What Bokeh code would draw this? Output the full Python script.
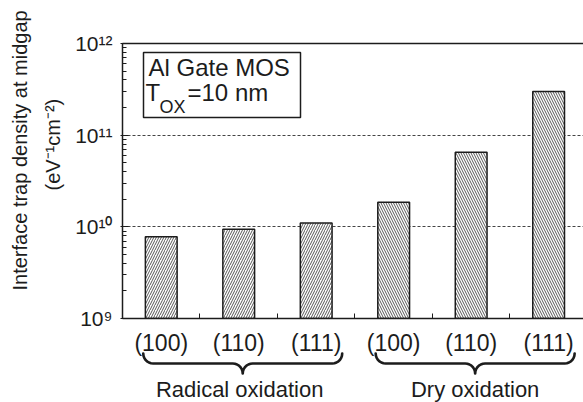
import math
import numpy as np
from bokeh.plotting import figure
from bokeh.layouts import column
from bokeh.models import (Range1d, FixedTicker, LinearAxis, Label, Title,
                          BoxAnnotation, PolyAnnotation, ColumnDataSource)
from bokeh.embed import file_html
from bokeh.resources import INLINE

# ---------------- data ----------------
categories = ["(100)", "(110)", "(111)", "(100)", "(110)", "(111)"]
groups = ["Radical  oxidation", "Dry oxidation"]
group_of_bar = [0, 0, 0, 1, 1, 1]
dit_values = [7.8e9, 9.4e9, 1.10e10, 1.86e10, 6.5e10, 3.0e11]
y_ticks = [1e9, 1e10, 1e11, 1e12]
y_tick_labels = ["10\u2079", "10\u00b9\u2070", "10\u00b9\u00b9", "10\u00b9\u00b2"]
y_label_lines = ["Interface trap density at midgap", "(eV\u207b\u00b9cm\u207b\u00b2)"]
box_line1 = "Al Gate MOS"
box_line2 = ["T", "OX", "=10 nm"]

# ---------------- layout ----------------
W, H = 583, 402
TOPH = 330        # height of the main figure
FL, FT, FBOT = 122, 43, 318   # frame left, top, bottom in page pixels
X0, X1 = 0.0, 5.95
Y0, Y1 = 1e9, 1e12
FONT = "Liberation Sans"
INK = "#1c1c1c"
U = "canvas"

frame_w = W - FL


def px_of(x):
    return FL + (x - X0) / (X1 - X0) * frame_w


def label(fig, x, y, text, size, align="left", angle=0):
    fig.add_layout(Label(x=x, y=y, x_units=U, y_units=U, text=text, text_font=FONT,
                         text_font_size=size, text_align=align, text_baseline="middle",
                         angle=angle, angle_units="deg", text_color=INK))


# ---------------- main plot ----------------
p = figure(width=W, height=TOPH, y_axis_type="log",
           x_range=Range1d(X0, X1), y_range=Range1d(Y0, Y1),
           output_backend="svg", toolbar_location=None,
           min_border_left=FL, min_border_right=0,
           min_border_top=FT, min_border_bottom=TOPH - FBOT)
p.outline_line_color = None
p.background_fill_color = "white"
p.border_fill_color = "white"
p.title.visible = False

xs = [i + 0.5 for i in range(len(categories))]
hatch = ["/" if g == 0 else "\\" for g in group_of_bar]
src = ColumnDataSource(dict(x=xs, top=dit_values, hatch=hatch))
p.vbar(x="x", top="top", bottom=Y0, width=0.41, source=src,
       fill_color="white", line_color=INK, line_width=1.5,
       hatch_pattern="hatch", hatch_color="#444444", hatch_scale=5,
       hatch_weight=0.9)

minor = [m * 10 ** e for e in range(9, 12) for m in range(2, 10)]
ya = p.yaxis[0]
ya.ticker = FixedTicker(ticks=y_ticks, minor_ticks=minor)
ya.major_label_overrides = {t: s for t, s in zip(y_ticks, y_tick_labels)}
ya.major_label_text_font = FONT
ya.major_label_text_font_size = "21px"
ya.major_label_text_color = INK
ya.major_label_standoff = 8
ya.axis_line_color = INK
ya.axis_line_width = 1.5
ya.major_tick_line_color = INK
ya.major_tick_in = 6
ya.major_tick_out = 2
ya.minor_tick_line_color = INK
ya.minor_tick_in = 4
ya.minor_tick_out = 0

xa = p.xaxis[0]
xa.ticker = FixedTicker(ticks=list(range(1, len(categories))))
xa.major_label_text_font_size = "0px"
xa.major_label_text_color = None
xa.major_label_standoff = 0
xa.axis_line_color = INK
xa.axis_line_width = 1.5
xa.major_tick_line_color = INK
xa.major_tick_in = 5
xa.major_tick_out = 0
xa.minor_tick_line_color = None

top_axis = LinearAxis(ticker=FixedTicker(ticks=[]), major_label_text_font_size="0px",
                      major_tick_in=0, major_tick_out=0, minor_tick_in=0, minor_tick_out=0,
                      axis_line_color=INK, axis_line_width=1.5)
p.add_layout(top_axis, "above")

# y axis title: two stacked titles in the left panel (inner line first)
for txt, off, so in ((y_label_lines[1], 128, 18), (y_label_lines[0], 28, 0)):
    p.add_layout(Title(text=txt, align="left", offset=off, standoff=so,
                       text_font=FONT, text_font_size="20px", text_font_style="normal",
                       text_color=INK), "left")

p.xgrid.visible = False
p.ygrid.grid_line_color = "#444444"
p.ygrid.grid_line_dash = "3 2"
p.ygrid.grid_line_width = 1
p.ygrid.minor_grid_line_color = None

# info box
p.add_layout(BoxAnnotation(left=143, right=300, top=52, bottom=117,
                           left_units=U, right_units=U, top_units=U, bottom_units=U,
                           fill_color="white", fill_alpha=1.0, line_color=INK,
                           line_alpha=1.0, line_width=1.5))
label(p, 148, 67, box_line1, "24px")
label(p, 145, 92, box_line2[0], "24px")
label(p, 159, 106, box_line2[1], "18px")
label(p, 187, 92, box_line2[2], "24px")

# ---------------- bottom panel: categories, braces, groups ----------------
B = figure(width=W, height=H - TOPH, x_range=Range1d(0, 1), y_range=Range1d(0, 1),
           output_backend="svg", toolbar_location=None,
           x_axis_location=None, y_axis_location=None,
           min_border_left=0, min_border_right=0, min_border_top=0, min_border_bottom=0)
B.outline_line_color = None
B.grid.visible = False
B.background_fill_color = "white"
B.border_fill_color = "white"
B.title.visible = False

oy = TOPH
for xc, c in zip(xs, categories):
    label(B, px_of(xc), 342 - oy, c, "23px", "center")


def brace(x0, x1, xc, y_top, y_mid, y_cusp):
    r = y_mid - y_top
    r2 = y_cusp - y_mid
    pts = []
    th = np.linspace(math.pi, math.pi / 2, 8)
    pts += [(x0 + r + r * math.cos(a), y_top + r * math.sin(a)) for a in th]
    th = np.linspace(-math.pi / 2, 0, 8)
    pts += [(xc - r2 + r2 * math.cos(a), y_cusp + r2 * math.sin(a)) for a in th]
    th = np.linspace(math.pi, 3 * math.pi / 2, 8)
    pts += [(xc + r2 + r2 * math.cos(a), y_cusp + r2 * math.sin(a)) for a in th]
    th = np.linspace(math.pi / 2, 0, 8)
    pts += [(x1 - r + r * math.cos(a), y_top + r * math.sin(a)) for a in th]
    path = pts + pts[::-1]
    return [a for a, _ in path], [b for _, b in path]


start = 0
for gi, g in enumerate(groups):
    n = group_of_bar.count(gi)
    first, last = xs[start], xs[start + n - 1]
    start += n
    left_px = px_of(first) - 18
    right_px = px_of(last) + 26
    mid_px = (left_px + right_px) / 2
    bx, by = brace(left_px, right_px, mid_px, 353 - oy, 363 - oy, 373 - oy)
    B.add_layout(PolyAnnotation(xs=bx, ys=by, xs_units=U, ys_units=U,
                                fill_alpha=0, fill_color=None,
                                line_color=INK, line_alpha=1.0, line_width=2.6,
                                line_join="round"))
    label(B, mid_px, 389 - oy, g, "22px", "center")

layout = column(p, B, spacing=0)
open("out.html", "w").write(file_html(layout, INLINE))
